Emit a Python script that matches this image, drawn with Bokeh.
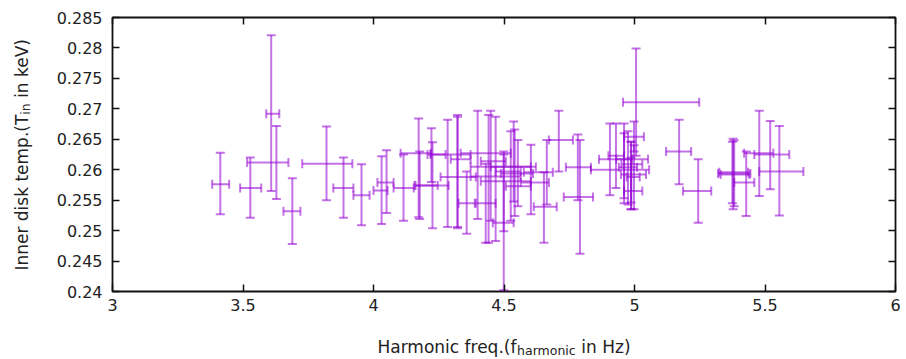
import math
from bokeh.plotting import figure
from bokeh.layouts import row, column
from bokeh.models import (ColumnDataSource, Whisker, TeeHead, FixedTicker, Range1d,
                          LinearAxis, Label)
from bokeh.embed import file_html
from bokeh.resources import INLINE

# ---- data ----
freq = [3.413, 3.528, 3.608, 3.628, 3.689, 3.820, 3.885, 3.954, 4.031, 4.050,
        4.115, 4.173, 4.177, 4.226, 4.222, 4.284, 4.322, 4.322, 4.357, 4.399,
        4.430, 4.441, 4.449, 4.468, 4.499, 4.499, 4.526, 4.537, 4.541, 4.553,
        4.603, 4.653, 4.710, 4.664, 4.783, 4.791, 4.906, 4.929, 4.960, 4.975,
        4.987, 5.006, 4.998, 4.987, 4.998, 4.987, 4.960, 5.171, 5.244, 5.378,
        5.382, 5.375, 5.428, 5.478, 5.520, 5.555]
freq_lo = [3.382, 3.489, 3.589, 3.516, 3.655, 3.727, 3.846, 3.923, 4.000, 4.015,
           4.077, 4.104, 4.157, 4.161, 4.207, 4.219, 4.296, 4.257, 4.326, 4.334,
           4.392, 4.372, 4.411, 4.372, 4.457, 4.411, 4.468, 4.449, 4.507, 4.488,
           4.564, 4.614, 4.672, 4.576, 4.737, 4.729, 4.864, 4.900, 4.930, 4.940,
           4.950, 4.956, 4.960, 4.948, 4.970, 4.960, 4.833, 5.121, 5.186, 5.320,
           5.330, 5.325, 5.382, 5.420, 5.459, 5.478]
freq_hi = [3.447, 3.570, 3.639, 3.674, 3.720, 3.919, 3.923, 3.985, 4.054, 4.077,
           4.154, 4.219, 4.246, 4.288, 4.276, 4.372, 4.372, 4.392, 4.388, 4.526,
           4.468, 4.564, 4.507, 4.603, 4.537, 4.603, 4.564, 4.622, 4.603, 4.611,
           4.672, 4.702, 4.764, 4.687, 4.833, 4.841, 5.052, 4.960, 4.990, 5.010,
           5.030, 5.248, 5.036, 5.044, 5.020, 5.030, 5.056, 5.217, 5.294, 5.444,
           5.440, 5.435, 5.459, 5.532, 5.593, 5.647]
temp = [0.2576, 0.2570, 0.2692, 0.2612, 0.2532, 0.2610, 0.2570, 0.2558, 0.2566, 0.2579,
        0.2570, 0.2627, 0.2574, 0.2574, 0.2625, 0.2625, 0.2617, 0.2588, 0.2545, 0.2627,
        0.2545, 0.2589, 0.2614, 0.2605, 0.2513, 0.2581, 0.2597, 0.2605, 0.2573, 0.2594,
        0.2579, 0.2539, 0.2649, 0.2596, 0.2604, 0.2555, 0.2617, 0.2623, 0.2617, 0.2604,
        0.2609, 0.2711, 0.2654, 0.2592, 0.2588, 0.2565, 0.2600, 0.2630, 0.2565, 0.2594,
        0.2592, 0.2596, 0.2579, 0.2627, 0.2625, 0.2597]
temp_lo = [0.2527, 0.2521, 0.2565, 0.2552, 0.2478, 0.2550, 0.2521, 0.2509, 0.2511, 0.2529,
           0.2516, 0.2522, 0.2519, 0.2504, 0.2580, 0.2506, 0.2506, 0.2504, 0.2495, 0.2519,
           0.2480, 0.2480, 0.2516, 0.2483, 0.2402, 0.2499, 0.2516, 0.2548, 0.2524, 0.2540,
           0.2527, 0.2480, 0.2597, 0.2543, 0.2550, 0.2462, 0.2558, 0.2570, 0.2553, 0.2543,
           0.2535, 0.2623, 0.2630, 0.2546, 0.2535, 0.2535, 0.2545, 0.2576, 0.2513, 0.2535,
           0.2540, 0.2545, 0.2524, 0.2557, 0.2568, 0.2525]
temp_hi = [0.2628, 0.2620, 0.2821, 0.2672, 0.2586, 0.2671, 0.2620, 0.2609, 0.2622, 0.2632,
           0.2625, 0.2684, 0.2630, 0.2645, 0.2668, 0.2682, 0.2690, 0.2687, 0.2597, 0.2697,
           0.2610, 0.2690, 0.2697, 0.2687, 0.2625, 0.2630, 0.2663, 0.2679, 0.2666, 0.2649,
           0.2641, 0.2596, 0.2697, 0.2649, 0.2658, 0.2649, 0.2676, 0.2676, 0.2676, 0.2663,
           0.2646, 0.2799, 0.2679, 0.2646, 0.2640, 0.2620, 0.2660, 0.2682, 0.2617, 0.2651,
           0.2648, 0.2646, 0.2630, 0.2697, 0.2680, 0.2672]

x_ticks = [3, 3.5, 4, 4.5, 5, 5.5, 6]
x_tick_labels = ["3", "3.5", "4", "4.5", "5", "5.5", "6"]
y_ticks = [0.24, 0.245, 0.25, 0.255, 0.26, 0.265, 0.27, 0.275, 0.28, 0.285]
y_tick_labels = ["0.24", "0.245", "0.25", "0.255", "0.26", "0.265", "0.27", "0.275", "0.28", "0.285"]

x_title = ["Harmonic freq.(f", "harmonic", " in Hz)"]
y_title = ["Inner disk temp.(T", "in", " in keV)"]

# ---- layout ----
W, H = 906, 359
YLAB_W = 40          # strip holding the y title
XLAB_H = 34          # strip holding the x title
MW, MH = W - YLAB_W, H - XLAB_H
FL, FR, FT, FB = 112, 895, 17, 291     # frame edges on the page
L, R, T, B = FL - YLAB_W, W - FR, FT, MH - FB
X0, X1 = 3, 6
Y0, Y1 = 0.24, 0.285

FONT = "DejaVu Sans"
COL = "#9400D3"
TXT = "#222222"

p = figure(width=MW, height=MH, output_backend="svg", toolbar_location=None,
           x_range=Range1d(X0, X1), y_range=Range1d(Y0, Y1),
           min_border_left=L, min_border_right=R, min_border_top=T, min_border_bottom=B)
p.background_fill_color = "white"
p.border_fill_color = "white"
p.outline_line_color = "#111111"
p.outline_line_width = 1.8
p.xgrid.visible = False
p.ygrid.visible = False

def style_axis(ax, ticks, labels, show):
    ax.ticker = FixedTicker(ticks=ticks)
    ax.major_label_overrides = {t: l for t, l in zip(ticks, labels)}
    ax.minor_tick_line_color = None
    ax.major_tick_in = 7
    ax.major_tick_out = 0
    ax.major_tick_line_color = "#111111"
    ax.major_tick_line_width = 1.5
    ax.axis_line_color = None
    ax.major_label_text_font = FONT
    ax.major_label_text_font_size = "16px"
    ax.major_label_text_color = TXT
    if not show:
        ax.major_label_text_alpha = 0
        ax.major_label_text_font_size = "1px"

style_axis(p.xaxis[0], x_ticks, x_tick_labels, True)
style_axis(p.yaxis[0], y_ticks, y_tick_labels, True)
p.xaxis[0].major_label_standoff = 7
p.yaxis[0].major_label_standoff = 10

top_ax = LinearAxis()
right_ax = LinearAxis()
p.add_layout(top_ax, "above")
p.add_layout(right_ax, "right")
style_axis(top_ax, x_ticks, x_tick_labels, False)
style_axis(right_ax, y_ticks, y_tick_labels, False)
top_ax.major_label_standoff = 0
right_ax.major_label_standoff = 0

src = ColumnDataSource(dict(x=freq, xlo=freq_lo, xhi=freq_hi, y=temp, ylo=temp_lo, yhi=temp_hi))

def head():
    return TeeHead(size=9, line_color=COL, line_alpha=0.55, line_width=2)

vw = Whisker(base="x", lower="ylo", upper="yhi", dimension="height", source=src,
             line_color=COL, line_alpha=0.55, line_width=2,
             upper_head=head(), lower_head=head(), level="glyph")
hw = Whisker(base="y", lower="xlo", upper="xhi", dimension="width", source=src,
             line_color=COL, line_alpha=0.55, line_width=2,
             upper_head=head(), lower_head=head(), level="glyph")
p.add_layout(vw)
p.add_layout(hw)

# ---- title strips (ranges given in page pixels) ----
def strip(w, h, x0, x1, y0, y1, **kw):
    f = figure(width=w, height=h, output_backend="svg", toolbar_location=None,
               x_range=Range1d(x0, x1), y_range=Range1d(y1, y0),
               x_axis_type=None, y_axis_type=None, **kw)
    f.outline_line_color = None
    f.background_fill_color = "white"
    f.border_fill_color = "white"
    f.xgrid.visible = False
    f.ygrid.visible = False
    return f

ADV = {'H': .752, 'a': .613, 'r': .411, 'm': .974, 'o': .612, 'n': .634, 'i': .278, 'c': .550,
       ' ': .318, 'f': .352, 'e': .615, 'q': .635, '.': .318, '(': .390, ')': .390, 'z': .525,
       'h': .634, 'I': .295, 'd': .635, 's': .521, 'k': .579, 't': .392, 'p': .635, 'T': .611,
       'V': .684}

def tw(s, size):
    return sum(ADV.get(ch, .6) for ch in s) * size

F, FS = 17, 12.5
sizes = [F, FS, F]
shift = [0, 4, 0]

FRAME_CX = (FL + FR) / 2
FRAME_CY = (FT + FB) / 2

# the x strip's frame is aligned with the main frame (FL..FR)
xs = strip(MW, XLAB_H, FL, FR, MH, H, min_border_left=L, min_border_right=R,
           min_border_top=0, min_border_bottom=0)
total = sum(tw(s, sz) for s, sz in zip(x_title, sizes))
pos = FRAME_CX - total / 2
for s, sz, d in zip(x_title, sizes, shift):
    lead = len(s) - len(s.lstrip(" "))
    pos += lead * ADV[' '] * sz
    xs.add_layout(Label(x=pos, y=346 + d, text=s.lstrip(" "), text_font=FONT,
                        text_font_size=f"{sz}px", text_color=TXT, text_align="left",
                        text_baseline="alphabetic"))
    pos += tw(s.lstrip(" "), sz)

ys = strip(YLAB_W, H, 0, YLAB_W, 0, H, min_border=0)
total = sum(tw(s, sz) for s, sz in zip(y_title, sizes))
pos = FRAME_CY + total / 2
for s, sz, d in zip(y_title, sizes, shift):
    lead = len(s) - len(s.lstrip(" "))
    pos -= lead * ADV[' '] * sz
    ys.add_layout(Label(x=21 + d, y=pos, text=s.lstrip(" "), text_font=FONT,
                        text_font_size=f"{sz}px", text_color=TXT, text_align="left",
                        text_baseline="alphabetic", angle=math.pi / 2))
    pos -= tw(s.lstrip(" "), sz)

layout = row(ys, column(p, xs, spacing=0), spacing=0)
open("out.html", "w").write(file_html(layout, INLINE))
